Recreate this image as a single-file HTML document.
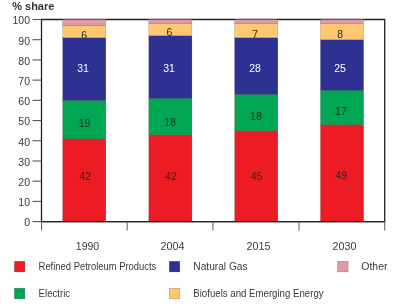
<!DOCTYPE html>
<html><head><meta charset="utf-8"><style>
html,body{margin:0;padding:0;background:#fff;width:400px;height:306px;overflow:hidden}
svg{display:block;will-change:transform}
.t{font-family:"Liberation Sans",sans-serif;font-size:10.5px;fill:#3a3a3a}
.b{font-family:"Liberation Sans",sans-serif;font-size:11px;font-weight:bold;fill:#333}
</style></head><body>
<svg width="400" height="306" viewBox="0 0 400 306">
<path d="M41.5 19.5H384.7V221.6H41.5Z" fill="none" stroke="#222" stroke-width="1.3"/>
<rect x="62.7" y="138.74" width="43.1" height="82.86" fill="#ED1C24" stroke="rgba(0,0,0,0.3)" stroke-width="0.5"/>
<rect x="62.7" y="100.34" width="43.1" height="38.40" fill="#00A651" stroke="rgba(0,0,0,0.3)" stroke-width="0.5"/>
<rect x="62.7" y="37.69" width="43.1" height="62.65" fill="#2E3192" stroke="rgba(0,0,0,0.3)" stroke-width="0.5"/>
<rect x="62.7" y="25.56" width="43.1" height="12.13" fill="#FDC871" stroke="rgba(0,0,0,0.3)" stroke-width="0.5"/>
<rect x="62.7" y="19.50" width="43.1" height="6.06" fill="#DE9BA7" stroke="rgba(0,0,0,0.3)" stroke-width="0.5"/>
<rect x="148.8" y="134.70" width="43.1" height="86.90" fill="#ED1C24" stroke="rgba(0,0,0,0.3)" stroke-width="0.5"/>
<rect x="148.8" y="98.32" width="43.1" height="36.38" fill="#00A651" stroke="rgba(0,0,0,0.3)" stroke-width="0.5"/>
<rect x="148.8" y="35.67" width="43.1" height="62.65" fill="#2E3192" stroke="rgba(0,0,0,0.3)" stroke-width="0.5"/>
<rect x="148.8" y="23.54" width="43.1" height="12.13" fill="#FDC871" stroke="rgba(0,0,0,0.3)" stroke-width="0.5"/>
<rect x="148.8" y="19.50" width="43.1" height="4.04" fill="#DE9BA7" stroke="rgba(0,0,0,0.3)" stroke-width="0.5"/>
<rect x="234.7" y="130.66" width="43.1" height="90.94" fill="#ED1C24" stroke="rgba(0,0,0,0.3)" stroke-width="0.5"/>
<rect x="234.7" y="94.28" width="43.1" height="36.38" fill="#00A651" stroke="rgba(0,0,0,0.3)" stroke-width="0.5"/>
<rect x="234.7" y="37.69" width="43.1" height="56.59" fill="#2E3192" stroke="rgba(0,0,0,0.3)" stroke-width="0.5"/>
<rect x="234.7" y="23.54" width="43.1" height="14.15" fill="#FDC871" stroke="rgba(0,0,0,0.3)" stroke-width="0.5"/>
<rect x="234.7" y="19.50" width="43.1" height="4.04" fill="#DE9BA7" stroke="rgba(0,0,0,0.3)" stroke-width="0.5"/>
<rect x="320.5" y="124.59" width="43.1" height="97.01" fill="#ED1C24" stroke="rgba(0,0,0,0.3)" stroke-width="0.5"/>
<rect x="320.5" y="90.24" width="43.1" height="34.36" fill="#00A651" stroke="rgba(0,0,0,0.3)" stroke-width="0.5"/>
<rect x="320.5" y="39.71" width="43.1" height="50.53" fill="#2E3192" stroke="rgba(0,0,0,0.3)" stroke-width="0.5"/>
<rect x="320.5" y="23.54" width="43.1" height="16.17" fill="#FDC871" stroke="rgba(0,0,0,0.3)" stroke-width="0.5"/>
<rect x="320.5" y="19.50" width="43.1" height="4.04" fill="#DE9BA7" stroke="rgba(0,0,0,0.3)" stroke-width="0.5"/>
<path d="M41.5 221.6H384.7" fill="none" stroke="#222" stroke-width="1.3"/>
<path d="M32.5 221.60H41.5" stroke="#555" stroke-width="1.1"/>
<path d="M32.5 201.39H41.5" stroke="#555" stroke-width="1.1"/>
<path d="M32.5 181.18H41.5" stroke="#555" stroke-width="1.1"/>
<path d="M32.5 160.97H41.5" stroke="#555" stroke-width="1.1"/>
<path d="M32.5 140.76H41.5" stroke="#555" stroke-width="1.1"/>
<path d="M32.5 120.55H41.5" stroke="#555" stroke-width="1.1"/>
<path d="M32.5 100.34H41.5" stroke="#555" stroke-width="1.1"/>
<path d="M32.5 80.13H41.5" stroke="#555" stroke-width="1.1"/>
<path d="M32.5 59.92H41.5" stroke="#555" stroke-width="1.1"/>
<path d="M32.5 39.71H41.5" stroke="#555" stroke-width="1.1"/>
<path d="M32.5 19.50H41.5" stroke="#555" stroke-width="1.1"/>
<path d="M41.5 221.6V230.5" stroke="#666" stroke-width="1.1"/>
<path d="M127.2 221.6V230.5" stroke="#666" stroke-width="1.1"/>
<path d="M212.9 221.6V230.5" stroke="#666" stroke-width="1.1"/>
<path d="M299.0 221.6V230.5" stroke="#666" stroke-width="1.1"/>
<path d="M384.7 221.6V230.5" stroke="#666" stroke-width="1.1"/>
<text x="30.00" y="226.40" class="t" text-anchor="end">0</text>
<text x="30.00" y="206.19" class="t" text-anchor="end">10</text>
<text x="30.00" y="185.98" class="t" text-anchor="end">20</text>
<text x="30.00" y="165.77" class="t" text-anchor="end">30</text>
<text x="30.00" y="145.56" class="t" text-anchor="end">40</text>
<text x="30.00" y="125.35" class="t" text-anchor="end">50</text>
<text x="30.00" y="105.14" class="t" text-anchor="end">60</text>
<text x="30.00" y="84.93" class="t" text-anchor="end">70</text>
<text x="30.00" y="64.72" class="t" text-anchor="end">80</text>
<text x="30.00" y="44.51" class="t" text-anchor="end">90</text>
<text x="30.00" y="24.30" class="t" text-anchor="end">100</text>
<text x="87.50" y="250.20" class="t" text-anchor="middle">1990</text>
<text x="172.50" y="250.20" class="t" text-anchor="middle" textLength="24.00" lengthAdjust="spacingAndGlyphs">2004</text>
<text x="258.40" y="250.20" class="t" text-anchor="middle" textLength="24.00" lengthAdjust="spacingAndGlyphs">2015</text>
<text x="344.40" y="250.20" class="t" text-anchor="middle" textLength="24.00" lengthAdjust="spacingAndGlyphs">2030</text>
<text x="85.20" y="179.50" class="t" text-anchor="middle" style="fill:#2a2a2a">42</text>
<text x="84.60" y="126.50" class="t" text-anchor="middle" style="fill:#2a2a2a">19</text>
<text x="83.10" y="72.00" class="t" text-anchor="middle" style="fill:#fff">31</text>
<text x="84.10" y="38.80" class="t" text-anchor="middle" style="fill:#2a2a2a">6</text>
<text x="170.90" y="179.50" class="t" text-anchor="middle" style="fill:#2a2a2a">42</text>
<text x="170.10" y="125.50" class="t" text-anchor="middle" style="fill:#2a2a2a">18</text>
<text x="169.00" y="72.00" class="t" text-anchor="middle" style="fill:#fff">31</text>
<text x="169.50" y="36.00" class="t" text-anchor="middle" style="fill:#2a2a2a">6</text>
<text x="256.50" y="179.50" class="t" text-anchor="middle" style="fill:#2a2a2a">45</text>
<text x="255.90" y="119.80" class="t" text-anchor="middle" style="fill:#2a2a2a">18</text>
<text x="255.00" y="72.00" class="t" text-anchor="middle" style="fill:#fff">28</text>
<text x="255.10" y="37.80" class="t" text-anchor="middle" style="fill:#2a2a2a">7</text>
<text x="341.20" y="179.20" class="t" text-anchor="middle" style="fill:#2a2a2a">49</text>
<text x="340.90" y="115.00" class="t" text-anchor="middle" style="fill:#2a2a2a">17</text>
<text x="340.10" y="72.00" class="t" text-anchor="middle" style="fill:#fff">25</text>
<text x="340.10" y="37.80" class="t" text-anchor="middle" style="fill:#2a2a2a">8</text>
<rect x="14.4" y="261.3" width="10.5" height="10.6" fill="#ED1C24" stroke="rgba(0,0,0,0.35)" stroke-width="0.5"/>
<text x="38.60" y="270.20" class="t" textLength="117.70" lengthAdjust="spacingAndGlyphs">Refined Petroleum Products</text>
<rect x="169.3" y="261.3" width="10.5" height="10.6" fill="#2E3192" stroke="rgba(0,0,0,0.35)" stroke-width="0.5"/>
<text x="193.30" y="270.20" class="t" textLength="54.30" lengthAdjust="spacingAndGlyphs">Natural Gas</text>
<rect x="337.6" y="261.3" width="10.5" height="10.6" fill="#DE9BA7" stroke="rgba(0,0,0,0.35)" stroke-width="0.5"/>
<text x="361.30" y="270.20" class="t" textLength="26.20" lengthAdjust="spacingAndGlyphs">Other</text>
<rect x="14.4" y="288.2" width="10.5" height="10.6" fill="#00A651" stroke="rgba(0,0,0,0.35)" stroke-width="0.5"/>
<text x="38.60" y="297.10" class="t" textLength="31.50" lengthAdjust="spacingAndGlyphs">Electric</text>
<rect x="169.3" y="288.2" width="10.5" height="10.6" fill="#FDC871" stroke="rgba(0,0,0,0.35)" stroke-width="0.5"/>
<text x="193.30" y="297.10" class="t" textLength="130.30" lengthAdjust="spacingAndGlyphs">Biofuels and Emerging Energy</text>
<text x="12.20" y="10.20" class="b">% share</text>
</svg></body></html>
